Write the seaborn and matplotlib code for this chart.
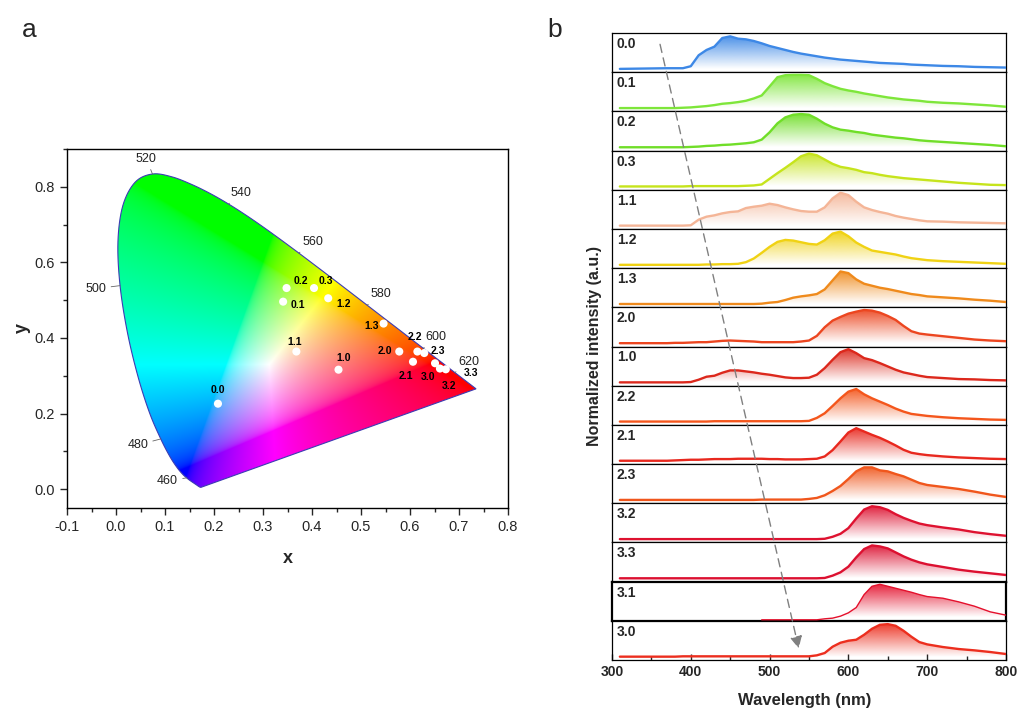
import numpy as np
import matplotlib
matplotlib.use("Agg")
import matplotlib.pyplot as plt
from matplotlib.patches import Polygon, ConnectionPatch
from matplotlib.ticker import MultipleLocator, FormatStrFormatter
import seaborn as sns

# ---------------- panel a: CIE 1931 chromaticity ----------------
locus_nm = [380, 385, 390, 395, 400, 405, 410, 415, 420, 425, 430, 435, 440, 445,
            450, 455, 460, 465, 470, 475, 480, 485, 490, 495, 500, 505, 510, 515,
            520, 525, 530, 535, 540, 545, 550, 555, 560, 565, 570, 575, 580, 585,
            590, 595, 600, 605, 610, 615, 620, 625, 630, 635, 640, 645, 650, 655,
            660, 665, 670, 675, 680, 685, 690, 695, 700]
locus_x = [0.1741, 0.1740, 0.1738, 0.1736, 0.1733, 0.1730, 0.1726, 0.1721, 0.1714,
           0.1703, 0.1689, 0.1669, 0.1644, 0.1611, 0.1566, 0.1510, 0.1440, 0.1355,
           0.1241, 0.1096, 0.0913, 0.0687, 0.0454, 0.0235, 0.0082, 0.0039, 0.0139,
           0.0389, 0.0743, 0.1142, 0.1547, 0.1929, 0.2296, 0.2658, 0.3016, 0.3373,
           0.3731, 0.4087, 0.4441, 0.4788, 0.5125, 0.5448, 0.5752, 0.6029, 0.6270,
           0.6482, 0.6658, 0.6801, 0.6915, 0.7006, 0.7079, 0.7140, 0.7190, 0.7230,
           0.7260, 0.7283, 0.7300, 0.7311, 0.7320, 0.7327, 0.7334, 0.7340, 0.7344,
           0.7346, 0.7347]
locus_y = [0.0050, 0.0050, 0.0049, 0.0049, 0.0048, 0.0048, 0.0048, 0.0048, 0.0051,
           0.0058, 0.0069, 0.0086, 0.0109, 0.0138, 0.0177, 0.0227, 0.0297, 0.0399,
           0.0578, 0.0868, 0.1327, 0.2007, 0.2950, 0.4127, 0.5384, 0.6548, 0.7502,
           0.8120, 0.8338, 0.8262, 0.8059, 0.7816, 0.7543, 0.7243, 0.6923, 0.6589,
           0.6245, 0.5896, 0.5547, 0.5202, 0.4866, 0.4544, 0.4242, 0.3965, 0.3725,
           0.3514, 0.3340, 0.3197, 0.3083, 0.2993, 0.2920, 0.2859, 0.2809, 0.2770,
           0.2740, 0.2717, 0.2700, 0.2689, 0.2680, 0.2673, 0.2666, 0.2660, 0.2656,
           0.2654, 0.2653]
locus_marks = [460, 480, 500, 520, 540, 560, 580, 600, 620]

cie_labels = ["0.0", "0.1", "0.2", "0.3", "1.2", "1.3", "1.1", "1.0",
              "2.0", "2.2", "2.3", "2.1", "3.0", "3.2", "3.3"]
cie_x = [0.208, 0.341, 0.348, 0.404, 0.433, 0.546, 0.368, 0.454,
         0.578, 0.615, 0.629, 0.606, 0.651, 0.661, 0.673]
cie_y = [0.226, 0.496, 0.532, 0.532, 0.505, 0.438, 0.364, 0.316,
         0.364, 0.364, 0.360, 0.337, 0.333, 0.319, 0.317]

# ---------------- panel b: PL spectra ----------------
wavelength = [310, 340, 370, 380, 390, 400, 410, 420, 430, 440, 450, 460, 470, 480,
              490, 500, 510, 520, 530, 540, 550, 560, 570, 580, 590, 600, 610, 620,
              630, 640, 650, 660, 670, 680, 690, 700, 720, 740, 760, 780, 800]
samples = ["0.0", "0.1", "0.2", "0.3", "1.1", "1.2", "1.3", "2.0",
           "1.0", "2.2", "2.1", "2.3", "3.2", "3.3", "3.1", "3.0"]
line_colors = ["#3d88e6", "#7ee63a", "#70de28", "#c6e41c", "#f4b597", "#f0d214",
               "#ef8a1c", "#ec4620", "#dc281c", "#f4561c", "#e8281e", "#f0561c",
               "#de1230", "#dc1030", "#e4102c", "#ec2e1e"]
nan = float("nan")
spectra = [
    [0.00, 0.01, 0.02, 0.02, 0.02, 0.08, 0.41, 0.57, 0.67, 0.93, 0.98, 0.91, 0.89, 0.84,
     0.77, 0.69, 0.63, 0.57, 0.51, 0.46, 0.42, 0.38, 0.34, 0.31, 0.28, 0.26, 0.24, 0.22,
     0.20, 0.18, 0.17, 0.16, 0.15, 0.13, 0.12, 0.11, 0.09, 0.08, 0.06, 0.05, 0.04],
    [0.00, 0.00, 0.00, 0.00, 0.01, 0.02, 0.04, 0.06, 0.09, 0.13, 0.15, 0.18, 0.22, 0.29,
     0.38, 0.65, 0.93, 0.99, 1.00, 1.00, 0.99, 0.88, 0.75, 0.66, 0.58, 0.53, 0.49, 0.44,
     0.40, 0.36, 0.32, 0.29, 0.26, 0.24, 0.22, 0.19, 0.16, 0.14, 0.11, 0.08, 0.04],
    [0.00, 0.00, 0.00, 0.00, 0.00, 0.01, 0.02, 0.04, 0.05, 0.07, 0.08, 0.10, 0.12, 0.15,
     0.23, 0.45, 0.72, 0.90, 0.98, 1.00, 0.98, 0.86, 0.71, 0.60, 0.53, 0.50, 0.46, 0.43,
     0.38, 0.35, 0.32, 0.29, 0.27, 0.24, 0.21, 0.19, 0.16, 0.13, 0.10, 0.07, 0.03],
    [0.00, 0.00, 0.00, 0.00, 0.00, 0.01, 0.01, 0.01, 0.01, 0.01, 0.01, 0.01, 0.02, 0.03,
     0.06, 0.23, 0.40, 0.56, 0.73, 0.91, 0.99, 0.94, 0.81, 0.68, 0.59, 0.55, 0.50, 0.43,
     0.40, 0.35, 0.31, 0.28, 0.25, 0.23, 0.21, 0.19, 0.15, 0.11, 0.08, 0.05, 0.04],
    [0.00, 0.00, 0.00, 0.00, 0.00, 0.01, 0.18, 0.27, 0.31, 0.37, 0.41, 0.43, 0.53, 0.57,
     0.60, 0.66, 0.62, 0.55, 0.49, 0.44, 0.42, 0.42, 0.55, 0.82, 0.99, 0.92, 0.72, 0.55,
     0.47, 0.41, 0.36, 0.29, 0.24, 0.20, 0.16, 0.13, 0.12, 0.10, 0.09, 0.08, 0.07],
    [0.00, 0.00, 0.00, 0.00, 0.00, 0.00, 0.00, 0.01, 0.01, 0.02, 0.02, 0.03, 0.08, 0.19,
     0.36, 0.54, 0.69, 0.75, 0.73, 0.68, 0.63, 0.61, 0.74, 0.94, 1.00, 0.86, 0.67, 0.54,
     0.43, 0.39, 0.35, 0.31, 0.25, 0.20, 0.17, 0.14, 0.11, 0.09, 0.07, 0.05, 0.03],
    [0.00, 0.00, 0.00, 0.00, 0.00, 0.00, 0.00, 0.00, 0.00, 0.00, 0.00, 0.00, 0.00, 0.00,
     0.01, 0.04, 0.06, 0.12, 0.19, 0.23, 0.26, 0.30, 0.44, 0.71, 0.98, 0.93, 0.74, 0.61,
     0.55, 0.49, 0.45, 0.40, 0.35, 0.30, 0.27, 0.23, 0.20, 0.17, 0.13, 0.10, 0.06],
    [0.00, 0.00, 0.00, 0.01, 0.01, 0.02, 0.03, 0.03, 0.05, 0.07, 0.08, 0.07, 0.06, 0.05,
     0.03, 0.03, 0.03, 0.03, 0.03, 0.05, 0.08, 0.22, 0.48, 0.68, 0.79, 0.89, 0.95, 1.00,
     0.98, 0.92, 0.82, 0.70, 0.52, 0.36, 0.29, 0.26, 0.21, 0.16, 0.11, 0.08, 0.06],
    [0.00, 0.00, 0.00, 0.00, 0.00, 0.01, 0.08, 0.17, 0.20, 0.29, 0.36, 0.36, 0.33, 0.30,
     0.26, 0.23, 0.19, 0.15, 0.13, 0.13, 0.14, 0.23, 0.43, 0.68, 0.91, 1.00, 0.88, 0.73,
     0.67, 0.58, 0.48, 0.38, 0.30, 0.25, 0.20, 0.16, 0.13, 0.10, 0.09, 0.07, 0.06],
    [0.00, 0.00, 0.00, 0.00, 0.00, 0.00, 0.00, 0.00, 0.01, 0.01, 0.01, 0.01, 0.01, 0.01,
     0.01, 0.01, 0.01, 0.01, 0.01, 0.01, 0.02, 0.11, 0.25, 0.47, 0.70, 0.90, 0.98, 0.82,
     0.70, 0.60, 0.50, 0.39, 0.30, 0.23, 0.20, 0.17, 0.13, 0.10, 0.08, 0.06, 0.05],
    [0.00, 0.00, 0.00, 0.01, 0.02, 0.03, 0.03, 0.04, 0.05, 0.05, 0.05, 0.06, 0.06, 0.06,
     0.06, 0.05, 0.05, 0.04, 0.04, 0.04, 0.05, 0.06, 0.13, 0.32, 0.58, 0.85, 0.98, 0.88,
     0.78, 0.69, 0.58, 0.46, 0.33, 0.24, 0.20, 0.17, 0.13, 0.10, 0.08, 0.06, 0.05],
    [0.00, 0.00, 0.00, 0.00, 0.00, 0.00, 0.00, 0.00, 0.00, 0.00, 0.00, 0.00, 0.00, 0.00,
     0.01, 0.01, 0.01, 0.01, 0.01, 0.01, 0.03, 0.06, 0.14, 0.27, 0.42, 0.63, 0.86, 0.98,
     0.98, 0.89, 0.86, 0.78, 0.71, 0.61, 0.51, 0.45, 0.39, 0.33, 0.25, 0.16, 0.09],
    [0.00, 0.00, 0.00, 0.00, 0.00, 0.00, 0.00, 0.00, 0.00, 0.00, 0.00, 0.00, 0.00, 0.00,
     0.00, 0.00, 0.00, 0.00, 0.00, 0.00, 0.00, 0.00, 0.01, 0.07, 0.16, 0.33, 0.62, 0.89,
     0.99, 0.96, 0.88, 0.75, 0.64, 0.55, 0.47, 0.42, 0.35, 0.29, 0.21, 0.15, 0.10],
    [0.00, 0.00, 0.00, 0.00, 0.00, 0.00, 0.00, 0.00, 0.00, 0.00, 0.00, 0.00, 0.00, 0.00,
     0.00, 0.00, 0.00, 0.00, 0.00, 0.00, 0.00, 0.00, 0.01, 0.08, 0.18, 0.35, 0.63, 0.88,
     0.99, 0.96, 0.90, 0.78, 0.66, 0.56, 0.48, 0.42, 0.34, 0.26, 0.20, 0.15, 0.10],
    [nan, nan, nan, nan, nan, nan, nan, nan, nan, nan, nan, nan, nan, nan,
     -0.07, -0.07, -0.07, -0.07, -0.07, -0.07, -0.07, -0.07, -0.04, -0.02, 0.04, 0.14, 0.30, 0.69,
     0.94, 1.00, 0.94, 0.88, 0.82, 0.76, 0.69, 0.63, 0.58, 0.47, 0.34, 0.17, 0.07],
    [0.00, 0.00, 0.00, 0.00, 0.01, 0.01, 0.01, 0.01, 0.01, 0.01, 0.01, 0.01, 0.01, 0.01,
     0.01, 0.01, 0.01, 0.01, 0.01, 0.01, 0.01, 0.04, 0.11, 0.30, 0.42, 0.48, 0.51, 0.66,
     0.84, 0.96, 0.98, 0.93, 0.78, 0.60, 0.44, 0.37, 0.29, 0.23, 0.19, 0.14, 0.08],
]

# label offsets (pixels) for the points and the wavelength marks
point_offsets = [(0, 14), (15, -3), (14, 7), (12, 7), (15, -6), (-12, -2), (-2, 10),
                 (5, 12), (-14, 1), (-3, 15), (14, 2), (-7, -14), (-7, -14), (9, -17),
                 (25, -4)]
mark_offsets = [(-19, -3), (-23, -6), (-24, -3), (-6, 15), (12, 11), (14, 11),
                (14, 11), (13, 11), (14, 11)]

sns.set_style("ticks")
plt.rcParams["font.family"] = ["Liberation Sans", "DejaVu Sans"]
plt.rcParams["axes.unicode_minus"] = False

fig = plt.figure(figsize=(10.22, 7.18), dpi=100)

# ---------- a ----------
ax = fig.add_axes([0.0656, 0.2925, 0.4315, 0.5])

# Catmull-Rom smoothing of the locus outline (drawing only)
P = np.column_stack([locus_x, locus_y])
Pp = np.vstack([P[:1], P, P[-1:]])
seg = []
for k in range(1, len(Pp) - 2):
    p0, p1, p2, p3 = Pp[k - 1], Pp[k], Pp[k + 1], Pp[k + 2]
    for t in np.linspace(0, 1, 8, endpoint=False):
        seg.append(0.5 * ((2 * p1) + (-p0 + p2) * t + (2 * p0 - 5 * p1 + 4 * p2 - p3) * t ** 2
                          + (-p0 + 3 * p1 - 3 * p2 + p3) * t ** 3))
seg.append(P[-1])
outline = np.array(seg)

gx, gy = np.meshgrid(np.linspace(0, 0.75, 700), np.linspace(0, 0.85, 700))
gyc = np.clip(gy, 1e-4, None)
XYZ = np.stack([gx / gyc, np.ones_like(gx), (1 - gx - gy) / gyc], axis=-1)
M = np.array([[3.2406, -1.5372, -0.4986],
              [-0.9689, 1.8758, 0.0415],
              [0.0557, -0.2040, 1.0570]])
rgb = np.clip(XYZ @ M.T, 0, None)
rgb = rgb / (rgb.max(axis=-1, keepdims=True) + 1e-12)
rgb = np.where(rgb <= 0.0031308, 12.92 * rgb, 1.055 * rgb ** (1 / 2.4) - 0.055)
im = ax.imshow(rgb, extent=[0, 0.75, 0, 0.85], origin="lower", aspect="auto",
               interpolation="bilinear", zorder=1)
gamut = Polygon(outline, closed=True, fc="none", ec="#3c3cb4", lw=0.8, zorder=2)
ax.add_patch(gamut)
im.set_clip_path(gamut)

for nm, off in zip(locus_marks, mark_offsets):
    k = locus_nm.index(nm)
    ax.annotate(str(nm), xy=(locus_x[k], locus_y[k]), xytext=off, textcoords="offset pixels",
                ha="center", va="center", fontsize=9, color="#222222",
                arrowprops=dict(arrowstyle="-", color="#666666", lw=0.6, shrinkA=1, shrinkB=0))

sns.scatterplot(x=cie_x, y=cie_y, ax=ax, color="white", s=34, edgecolor="none", zorder=4)
for lab, px, py, off in zip(cie_labels, cie_x, cie_y, point_offsets):
    ax.annotate(lab, xy=(px, py), xytext=off, textcoords="offset pixels", ha="center",
                va="center", fontsize=7.5, fontweight="bold", color="black", zorder=5)

ax.set_xlim(-0.1, 0.8)
ax.set_ylim(-0.05, 0.9)
ax.xaxis.set_major_locator(MultipleLocator(0.1))
ax.xaxis.set_minor_locator(MultipleLocator(0.05))
ax.yaxis.set_major_locator(MultipleLocator(0.2))
ax.yaxis.set_minor_locator(MultipleLocator(0.1))
ax.xaxis.set_major_formatter(FormatStrFormatter("%.1f"))
ax.yaxis.set_major_formatter(FormatStrFormatter("%.1f"))
ax.tick_params(which="major", direction="out", length=5, width=1, labelsize=10.5)
ax.tick_params(which="minor", direction="out", length=3, width=1)
for sp in ax.spines.values():
    sp.set_linewidth(1.0)
    sp.set_color("black")
ax.set_xlabel("x", fontsize=13, fontweight="bold", labelpad=12)
ax.set_ylabel("y", fontsize=13, fontweight="bold", labelpad=3)

# ---------- b ----------
wl = np.array(wavelength)
row_h = (0.954 - 0.0808) / len(samples)
axes = []
for i, (lab, col, vals) in enumerate(zip(samples, line_colors, spectra)):
    a = fig.add_axes([0.5988, 0.954 - (i + 1) * row_h, 0.3855, row_h])
    v = np.array(vals, dtype=float)
    ok = ~np.isnan(v)
    rgba = np.zeros((256, 1, 4))
    rgba[..., :3] = matplotlib.colors.to_rgb(col)
    rgba[:, 0, 3] = np.linspace(0, 0.95, 256)
    g = a.imshow(rgba, extent=[300, 800, 0, 1], origin="lower", aspect="auto", zorder=1)
    verts = np.vstack([[wl[ok][0], 0], np.column_stack([wl[ok], v[ok]]), [wl[ok][-1], 0]])
    clip = Polygon(verts, closed=True, fc="none", ec="none")
    a.add_patch(clip)
    g.set_clip_path(clip)
    sns.lineplot(x=wl[ok], y=v[ok], ax=a, color=col, lw=1.0 if lab == "3.1" else 1.7,
                 estimator=None, zorder=3)
    a.set_xlim(300, 800)
    a.set_ylim(-0.1, 1.08)
    a.set_xlabel("")
    a.set_ylabel("")
    a.text(0.012, 0.72, lab, transform=a.transAxes, fontsize=10, fontweight="bold",
           ha="left", va="center")
    a.tick_params(left=False, labelleft=False, bottom=False, labelbottom=False)
    for sp in a.spines.values():
        sp.set_linewidth(1.6 if lab == "3.1" else 0.9)
        sp.set_color("black")
    axes.append(a)

bot = axes[-1]
bot.xaxis.set_major_locator(MultipleLocator(100))
bot.xaxis.set_minor_locator(MultipleLocator(50))
bot.tick_params(which="both", bottom=True, labelbottom=True, direction="in")
bot.tick_params(which="major", length=4, width=1, labelsize=10)
bot.tick_params(which="minor", length=3, width=1)
for t in bot.get_xticklabels():
    t.set_fontweight("bold")

fig.text(0.787, 0.025, "Wavelength (nm)", ha="center", va="center", fontsize=12,
         fontweight="bold")
fig.text(0.582, 0.518, "Normalized intensity (a.u.)", rotation=90, ha="center",
         va="center", fontsize=11.5, fontweight="bold")

arrow = ConnectionPatch(xyA=(361, 0.74), coordsA="data", axesA=axes[0],
                        xyB=(537, 0.25), coordsB="data", axesB=axes[-1],
                        arrowstyle="-|>", linestyle=(0, (6, 4)), color="#808080",
                        lw=1.0, mutation_scale=18)
fig.add_artist(arrow)

fig.text(0.029, 0.958, "a", fontsize=19, ha="center", va="center")
fig.text(0.543, 0.958, "b", fontsize=19, ha="center", va="center")

fig.savefig("out.png", dpi=100)
